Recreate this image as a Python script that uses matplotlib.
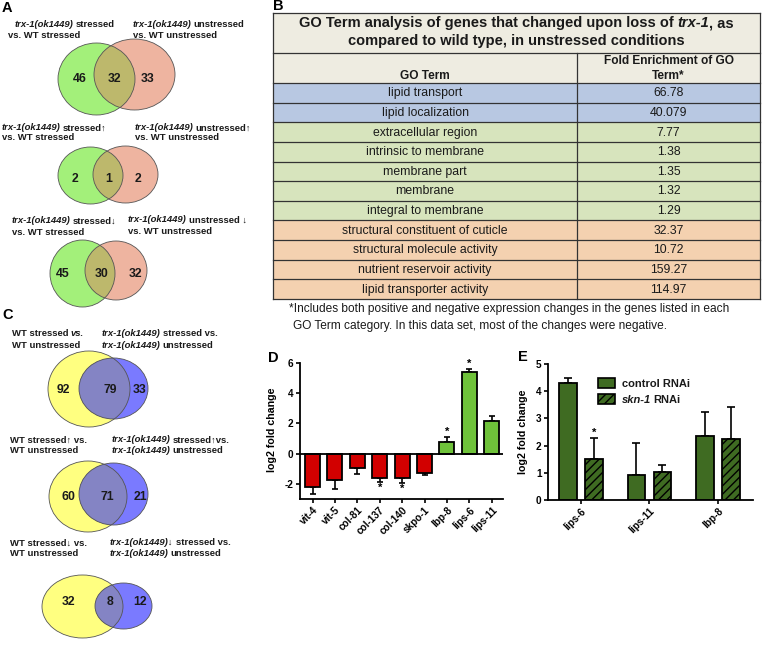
import numpy as np
import matplotlib.pyplot as plt
from matplotlib.patches import Ellipse, Rectangle

plt.rcParams['font.family'] = ['Liberation Sans', 'DejaVu Sans']
plt.rcParams['hatch.linewidth'] = 1.0
plt.rcParams['axes.unicode_minus'] = False

# --- data ---------------------------------------------------------------
venn_a_counts = [(46, 32, 33), (2, 1, 2), (45, 30, 32)]
venn_c_counts = [(92, 79, 33), (60, 71, 21), (32, 8, 12)]

go_terms = ['lipid transport', 'lipid localization', 'extracellular region',
            'intrinsic to membrane', 'membrane part', 'membrane',
            'integral to membrane', 'structural constituent of cuticle',
            'structural molecule activity', 'nutrient reservoir activity',
            'lipid transporter activity']
fold_enrichment = ['66.78', '40.079', '7.77', '1.38', '1.35', '1.32', '1.29',
                   '32.37', '10.72', '159.27', '114.97']
go_group = ['lipid', 'lipid', 'membrane', 'membrane', 'membrane', 'membrane',
            'membrane', 'structure', 'structure', 'structure', 'structure']

genes_d = ['vit-4', 'vit-5', 'col-81', 'col-137', 'col-140', 'skpo-1',
           'lbp-8', 'lips-6', 'lips-11']
fc_d = [-2.2, -1.72, -0.93, -1.6, -1.62, -1.25, 0.8, 5.4, 2.13]
err_d = [0.45, 0.65, 0.4, 0.25, 0.3, 0.15, 0.3, 0.2, 0.37]
sig_d = [False, False, False, True, True, False, True, True, False]

genes_e = ['lips-6', 'lips-11', 'lbp-8']
ctrl_e = [4.3, 0.92, 2.34]
ctrl_err = [0.18, 1.18, 0.89]
skn_e = [1.5, 1.03, 2.24]
skn_err = [0.77, 0.27, 1.18]
sig_skn = [True, False, False]

# --- figure, pixel-coordinate overlay -----------------------------------
fig = plt.figure(figsize=(7.62, 6.46), dpi=100)
ax0 = fig.add_axes([0, 0, 1, 1])
ax0.set_xlim(0, 762)
ax0.set_ylim(646, 0)
ax0.axis('off')
rend = fig.canvas.get_renderer()
INK = '#1a1a1a'


def rich(ax, x, y, parts, size, ha='left'):
    # parts: list of (string, style); a leading space becomes a fixed gap
    px = size * 100 / 72
    arts, gaps = [], []
    for s, st in parts:
        gaps.append(0.22 * px if s.startswith(' ') else 0)
        t = ax.text(0, y + 0.36 * px, s.strip(), fontsize=size, color=INK,
                    fontweight='bold' if 'b' in st else 'normal',
                    fontstyle='italic' if 'i' in st else 'normal',
                    va='baseline', ha='left')
        arts.append(t)
    widths = [t.get_window_extent(rend).width for t in arts]
    total = sum(widths) + sum(gaps)
    x0 = x - total / 2 if ha == 'center' else x
    for t, w, g in zip(arts, widths, gaps):
        x0 += g
        t.set_x(x0)
        x0 += w


def venn(e1, e2, cols, counts, numx, numy):
    p1 = Ellipse(e1[:2], e1[2], e1[3], fc=cols[0], ec='none')
    p2 = Ellipse(e2[:2], e2[2], e2[3], fc=cols[1], ec='none')
    ax0.add_patch(p1)
    ax0.add_patch(p2)
    ov = Ellipse(e2[:2], e2[2], e2[3], fc=cols[2], ec='none')
    ax0.add_patch(ov)
    ov.set_clip_path(p1)
    for e in (e1, e2):
        ax0.add_patch(Ellipse(e[:2], e[2], e[3], fc='none', ec='#555555', lw=0.6))
    for xx, n in zip(numx, counts):
        ax0.text(xx, numy, str(n), fontsize=8.8, fontweight='bold', color=INK,
                 ha='center', va='center')


LS = 6.8
AC = ('#a3f07a', '#eeb4a0', '#bdb86c')
CC = ('#ffff80', '#7a7aff', '#8484c4')
TRX = 'trx-1(ok1449)'

# panel A
ax0.text(2, 8, 'A', fontsize=10.5, fontweight='bold', va='center')
rich(ax0, 15, 24, [(TRX, 'bi'), (' stressed', 'b')], LS)
rich(ax0, 8, 35, [('vs. WT stressed', 'b')], LS)
rich(ax0, 133, 24, [(TRX, 'bi'), (' unstressed', 'b')], LS)
rich(ax0, 133, 35, [('vs. WT unstressed', 'b')], LS)
venn((96.5, 79, 77, 72), (134.5, 74.5, 81, 71), AC, venn_a_counts[0], (80, 114, 148), 79)

rich(ax0, 2, 127, [(TRX, 'bi'), (' stressed\u2191', 'b')], LS)
rich(ax0, 2, 137, [('vs. WT stressed', 'b')], LS)
rich(ax0, 135, 127, [(TRX, 'bi'), (' unstressed\u2191', 'b')], LS)
rich(ax0, 135, 137, [('vs. WT unstressed', 'b')], LS)
venn((90.5, 175.5, 65, 57), (125.5, 174.5, 65, 57), AC, venn_a_counts[1], (75, 109, 138), 179)

rich(ax0, 12, 220, [(TRX, 'bi'), (' stressed\u2193', 'b')], LS)
rich(ax0, 12, 232, [('vs. WT stressed', 'b')], LS)
rich(ax0, 128, 219, [(TRX, 'bi'), (' unstressed \u2193', 'b')], LS)
rich(ax0, 128, 231, [('vs. WT unstressed', 'b')], LS)
venn((82.5, 273.5, 65, 67), (116, 270.5, 62, 59), AC, venn_a_counts[2], (63, 102, 135), 274)

# panel C
ax0.text(2, 315, 'C', fontsize=10.5, fontweight='bold', va='center')
rich(ax0, 12, 333, [('WT stressed', 'b'), (' vs.', 'bi')], LS)
rich(ax0, 12, 345, [('WT unstressed', 'b')], LS)
rich(ax0, 102, 333, [(TRX, 'bi'), (' stressed vs.', 'b')], LS)
rich(ax0, 102, 345, [(TRX, 'bi'), (' unstressed', 'b')], LS)
venn((89, 389, 82, 76), (113.5, 388.5, 69, 61), CC, venn_c_counts[0], (63, 110, 140), 390)

rich(ax0, 10, 439, [('WT stressed\u2191 vs.', 'b')], LS)
rich(ax0, 10, 450, [('WT unstressed', 'b')], LS)
rich(ax0, 112, 439, [(TRX, 'bi'), (' stressed\u2191vs.', 'b')], LS)
rich(ax0, 112, 450, [(TRX, 'bi'), (' unstressed', 'b')], LS)
venn((88, 496.5, 78, 71), (113.5, 494, 69, 62), CC, venn_c_counts[1], (68, 107, 140), 497)

rich(ax0, 10, 542, [('WT stressed\u2193 vs.', 'b')], LS)
rich(ax0, 10, 553, [('WT unstressed', 'b')], LS)
rich(ax0, 110, 542, [(TRX + '\u2193', 'bi'), (' stressed vs.', 'b')], LS)
rich(ax0, 110, 553, [(TRX, 'bi'), (' unstressed', 'b')], LS)
venn((82.5, 606.5, 81, 63), (123.5, 606, 57, 46), CC, venn_c_counts[2], (68, 110, 140), 602)

# panel B: table
ax0.text(273, 6, 'B', fontsize=10.5, fontweight='bold', va='center')
tx0, tx1, tx2 = 273, 577, 760
ty0, ty1, ty2, ty3 = 13, 53, 83, 299
row_h = (ty3 - ty2) / len(go_terms)
group_colors = {'lipid': '#b8c8e2', 'membrane': '#d7e4bd', 'structure': '#f4d1b0'}
ax0.add_patch(Rectangle((tx0, ty0), tx2 - tx0, ty2 - ty0, fc='#eeece1', ec='none'))
for i, (term, fe, grp) in enumerate(zip(go_terms, fold_enrichment, go_group)):
    y = ty2 + i * row_h
    ax0.add_patch(Rectangle((tx0, y), tx2 - tx0, row_h, fc=group_colors[grp], ec='none'))
    ax0.text((tx0 + tx1) / 2, y + row_h / 2 + 0.5, term, fontsize=8.8, color=INK,
             ha='center', va='center')
    ax0.text((tx1 + tx2) / 2, y + row_h / 2 + 0.5, fe, fontsize=8.8, color=INK,
             ha='center', va='center')
lc = dict(color='#333333', lw=0.9)
for y in [ty0, ty1, ty2] + [ty2 + i * row_h for i in range(1, len(go_terms) + 1)]:
    ax0.plot([tx0, tx2], [y, y], **lc)
ax0.plot([tx0, tx0], [ty0, ty3], **lc)
ax0.plot([tx2, tx2], [ty0, ty3], **lc)
ax0.plot([tx1, tx1], [ty1, ty3], **lc)
rich(ax0, (tx0 + tx2) / 2, 22, [('GO Term analysis of genes that changed upon loss of', 'b'),
                                (' trx-1', 'bi'), (', as', 'b')], 10.5, ha='center')
rich(ax0, (tx0 + tx2) / 2, 39.5, [('compared to wild type, in unstressed conditions', 'b')],
     10.5, ha='center')
ax0.text((tx0 + tx1) / 2, 76, 'GO Term', fontsize=8.6, fontweight='bold', color=INK,
         ha='center', va='center')
ax0.text((tx1 + tx2) / 2, 61, 'Fold Enrichment of GO', fontsize=8.6, fontweight='bold',
         color=INK, ha='center', va='center')
ax0.text((tx1 + tx2) / 2, 76, 'Term*', fontsize=8.6, fontweight='bold', color=INK,
         ha='center', va='center')
ax0.text(289, 309, '*Includes both positive and negative expression changes in the genes '
         'listed in each', fontsize=8.6, color=INK, va='center')
ax0.text(293, 326, 'GO Term category. In this data set, most of the changes were negative.',
         fontsize=8.6, color=INK, va='center')

# panel D
ax0.text(268, 358, 'D', fontsize=10.5, fontweight='bold', va='center')
axd = fig.add_axes([300 / 762, 1 - 499 / 646, 203 / 762, 136 / 646])
xd = np.arange(len(genes_d))
cols_d = ['#d20000' if v < 0 else '#6fc23a' for v in fc_d]
lo = [e if v < 0 else 0 for v, e in zip(fc_d, err_d)]
hi = [e if v > 0 else 0 for v, e in zip(fc_d, err_d)]
axd.errorbar(xd, fc_d, yerr=[lo, hi], fmt='none', ecolor='black', elinewidth=1.2,
             capsize=2.5, capthick=1.2, zorder=1)
axd.bar(xd, fc_d, width=0.67, color=cols_d, edgecolor='black', linewidth=1.3, zorder=2)
axd.axhline(0, color='black', lw=1.3, zorder=3)
for xi, v, e, s in zip(xd, fc_d, err_d, sig_d):
    if s:
        if v > 0:
            axd.annotate('*', (xi, v + e), xytext=(0, 0), textcoords='offset points',
                         ha='center', va='bottom', fontsize=8, fontweight='bold')
        else:
            axd.annotate('*', (xi, v - e), xytext=(0, -1), textcoords='offset points',
                         ha='center', va='top', fontsize=8, fontweight='bold')
axd.set_xlim(-0.56, 8.5)
axd.set_ylim(-3, 6)
axd.set_yticks([-2, 0, 2, 4, 6])
axd.set_xticks(xd)
axd.set_xticklabels(genes_d, rotation=45, ha='right', rotation_mode='anchor')
axd.set_ylabel('log2 fold change', fontsize=7.7, fontweight='bold')
axd.yaxis.set_label_coords(-0.115, 0.51)

# panel E
ax0.text(518, 357, 'E', fontsize=10.5, fontweight='bold', va='center')
axe = fig.add_axes([548 / 762, 1 - 500 / 646, 205 / 762, 136 / 646])
xe = np.arange(len(genes_e))
GREEN_D = '#3f6b22'
axe.errorbar(xe - 0.19, ctrl_e, yerr=[np.zeros(3), ctrl_err], fmt='none', ecolor='black',
             elinewidth=1.2, capsize=3, capthick=1.2, zorder=1)
axe.errorbar(xe + 0.19, skn_e, yerr=[np.zeros(3), skn_err], fmt='none', ecolor='black',
             elinewidth=1.2, capsize=3, capthick=1.2, zorder=1)
axe.bar(xe - 0.19, ctrl_e, width=0.26, color=GREEN_D, edgecolor='black', linewidth=1.3,
        zorder=2)
axe.bar(xe + 0.19, skn_e, width=0.26, color=GREEN_D, edgecolor='black', linewidth=1.3,
        hatch='////', zorder=2)
for xi, v, e, s in zip(xe, skn_e, skn_err, sig_skn):
    if s:
        axe.annotate('*', (xi + 0.19, v + e), xytext=(0, 0), textcoords='offset points',
                     ha='center', va='bottom', fontsize=8, fontweight='bold')
axe.set_xlim(-0.48, 2.51)
axe.set_ylim(0, 5)
axe.set_yticks(range(6))
axe.set_xticks(xe)
axe.set_xticklabels(genes_e, rotation=45, ha='right', rotation_mode='anchor')
axe.set_ylabel('log2 fold change', fontsize=7.7, fontweight='bold')
axe.yaxis.set_label_coords(-0.10, 0.5)

for ax in (axd, axe):
    for sp in ('top', 'right'):
        ax.spines[sp].set_visible(False)
    for sp in ('left', 'bottom'):
        ax.spines[sp].set_linewidth(1.3)
    ax.tick_params(direction='out', length=3, width=1.2, labelsize=7.2, pad=1.5)
    for lbl in ax.get_xticklabels() + ax.get_yticklabels():
        lbl.set_fontweight('bold')
    ax.set_facecolor('none')

# legend for E
ax0.add_patch(Rectangle((598, 378), 17, 10, fc=GREEN_D, ec='black', lw=1.2))
ax0.add_patch(Rectangle((598, 394), 17, 10, fc=GREEN_D, ec='black', lw=1.2, hatch='////'))
rich(ax0, 622, 383, [('control RNAi', 'b')], 8)
rich(ax0, 622, 399, [('skn-1', 'bi'), (' RNAi', 'b')], 8)

fig.savefig('out.png', dpi=100)
